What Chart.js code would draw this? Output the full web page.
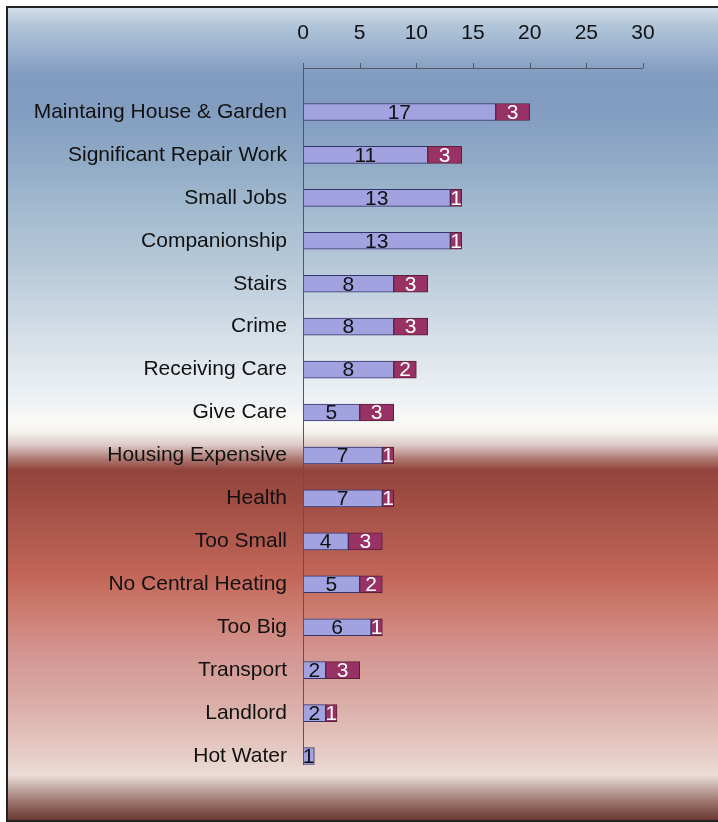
<!DOCTYPE html>
<html>
<head>
<meta charset="utf-8">
<script src="https://cdn.jsdelivr.net/npm/chart.js@4.4.1/dist/chart.umd.min.js"></script>
<style>
  html, body { margin: 0; padding: 0; background: #fff; }
  canvas { display: block; }
</style>
</head>
<body>
<canvas id="myChart" width="718" height="822"></canvas>
<script>
// categories (top to bottom)
const categories = [
    "Maintaing House & Garden",
    "Significant Repair Work",
    "Small Jobs",
    "Companionship",
    "Stairs",
    "Crime",
    "Receiving Care",
    "Give Care",
    "Housing Expensive",
    "Health",
    "Too Small",
    "No Central Heating",
    "Too Big",
    "Transport",
    "Landlord",
    "Hot Water"
];
const firstSeries = [17, 11, 13, 13, 8, 8, 8, 5, 7, 7, 4, 5, 6, 2, 2, 1];
const secondSeries = [3, 3, 1, 1, 3, 3, 2, 3, 1, 1, 3, 2, 1, 3, 1, 0];
const xTicks = [0, 5, 10, 15, 20, 25, 30];

const FONT = "'Liberation Sans', Arial, sans-serif";

// background + frame
const backdrop = {
    id: "backdrop",
    beforeDraw(chart) {
        const ctx = chart.ctx;
        const W = chart.width, H = chart.height;
        ctx.save();
        ctx.fillStyle = "#ffffff";
        ctx.fillRect(0, 0, W, H);
        const g = ctx.createLinearGradient(0, 8, 0, 820);
        const stops = [
            [8, "#d2dee9"], [25, "#b2c6da"], [75, "#819bbf"], [110, "#829dc0"],
            [160, "#90aac6"], [210, "#a3bbd0"], [260, "#b4c7d7"], [310, "#cad7e3"],
            [360, "#dfe6ec"], [400, "#eef2f5"], [422, "#f9f9f5"], [432, "#f6f2ee"],
            [445, "#dcc9c7"], [458, "#b07e78"], [470, "#92443c"], [500, "#a04d44"],
            [540, "#b25a50"], [575, "#c26658"], [610, "#cc7c70"], [650, "#d39490"],
            [690, "#d8a6a0"], [730, "#e0bdb6"], [765, "#e9d4ce"], [775, "#ecddd8"],
            [785, "#cdb6b1"], [800, "#a07c74"], [812, "#80524a"], [820, "#6a3a32"]
        ];
        stops.forEach(([y, c]) => g.addColorStop((y - 8) / 812, c));
        ctx.fillStyle = g;
        ctx.fillRect(8, 8, W - 8, 812);
        ctx.strokeStyle = "#222222";
        ctx.lineWidth = 2;
        ctx.strokeRect(7, 7, W + 10, 814);
        ctx.restore();
    }
};

// axis lines and in-bar value labels
const decorations = {
    id: "decorations",
    afterDatasetsDraw(chart) {
        const ctx = chart.ctx;
        const x = chart.scales.x, y = chart.scales.y;
        const axisY = Math.round(chart.chartArea.top - 22.5);
        ctx.save();
        ctx.strokeStyle = "#4e5668";
        ctx.lineWidth = 1;
        ctx.beginPath();
        ctx.moveTo(x.getPixelForValue(0), axisY + 0.5);
        ctx.lineTo(x.getPixelForValue(30), axisY + 0.5);
        xTicks.forEach(t => {
            const px = Math.round(x.getPixelForValue(t)) + 0.5;
            ctx.moveTo(px, axisY);
            ctx.lineTo(px, axisY - 5);
        });
        const x0 = Math.round(x.getPixelForValue(0)) + 0.5;
        ctx.moveTo(x0, axisY);
        ctx.lineTo(x0, y.getPixelForValue(categories.length - 1) + 9);
        ctx.stroke();

        ctx.font = "21px " + FONT;
        ctx.textAlign = "center";
        ctx.textBaseline = "middle";
        chart.data.datasets.forEach((ds, di) => {
            const meta = chart.getDatasetMeta(di);
            meta.data.forEach((bar, i) => {
                const v = ds.data[i];
                if (!v) return;
                const cx = (bar.x + bar.base) / 2;
                ctx.fillStyle = di === 0 ? "#111111" : "#ffffff";
                ctx.fillText(String(v), cx, bar.y + 1);
            });
        });
        ctx.restore();
    }
};

new Chart(document.getElementById("myChart"), {
    type: "bar",
    data: {
        labels: categories,
        datasets: [
            {
                label: "Series 1",
                data: firstSeries,
                backgroundColor: "#a2a2e0",
                borderColor: "#34346a",
                borderWidth: 1,
                borderSkipped: false,
                barThickness: 17
            },
            {
                label: "Series 2",
                data: secondSeries,
                backgroundColor: "#983264",
                borderColor: "#5a2038",
                borderWidth: 1,
                borderSkipped: false,
                barThickness: 17
            }
        ]
    },
    options: {
        indexAxis: "y",
        responsive: false,
        animation: false,
        layout: { padding: { top: 0, right: 75, bottom: 44.5, left: 0 } },
        plugins: {
            legend: { display: false },
            tooltip: { enabled: false }
        },
        scales: {
            x: {
                position: "top",
                stacked: true,
                min: 0,
                max: 30,
                grid: { display: false, drawTicks: false },
                border: { display: false },
                afterFit(scale) { scale.height = 90.5; },
                ticks: {
                    stepSize: 5,
                    padding: 45,
                    color: "#111111",
                    font: { family: FONT, size: 21 }
                }
            },
            y: {
                stacked: true,
                grid: { display: false, drawTicks: false },
                border: { display: false },
                afterFit(scale) { scale.width = 303; },
                ticks: {
                    padding: 16,
                    color: "#111111",
                    autoSkip: false,
                    font: { family: FONT, size: 21 }
                }
            }
        }
    },
    plugins: [backdrop, decorations]
});
</script>
</body>
</html>
